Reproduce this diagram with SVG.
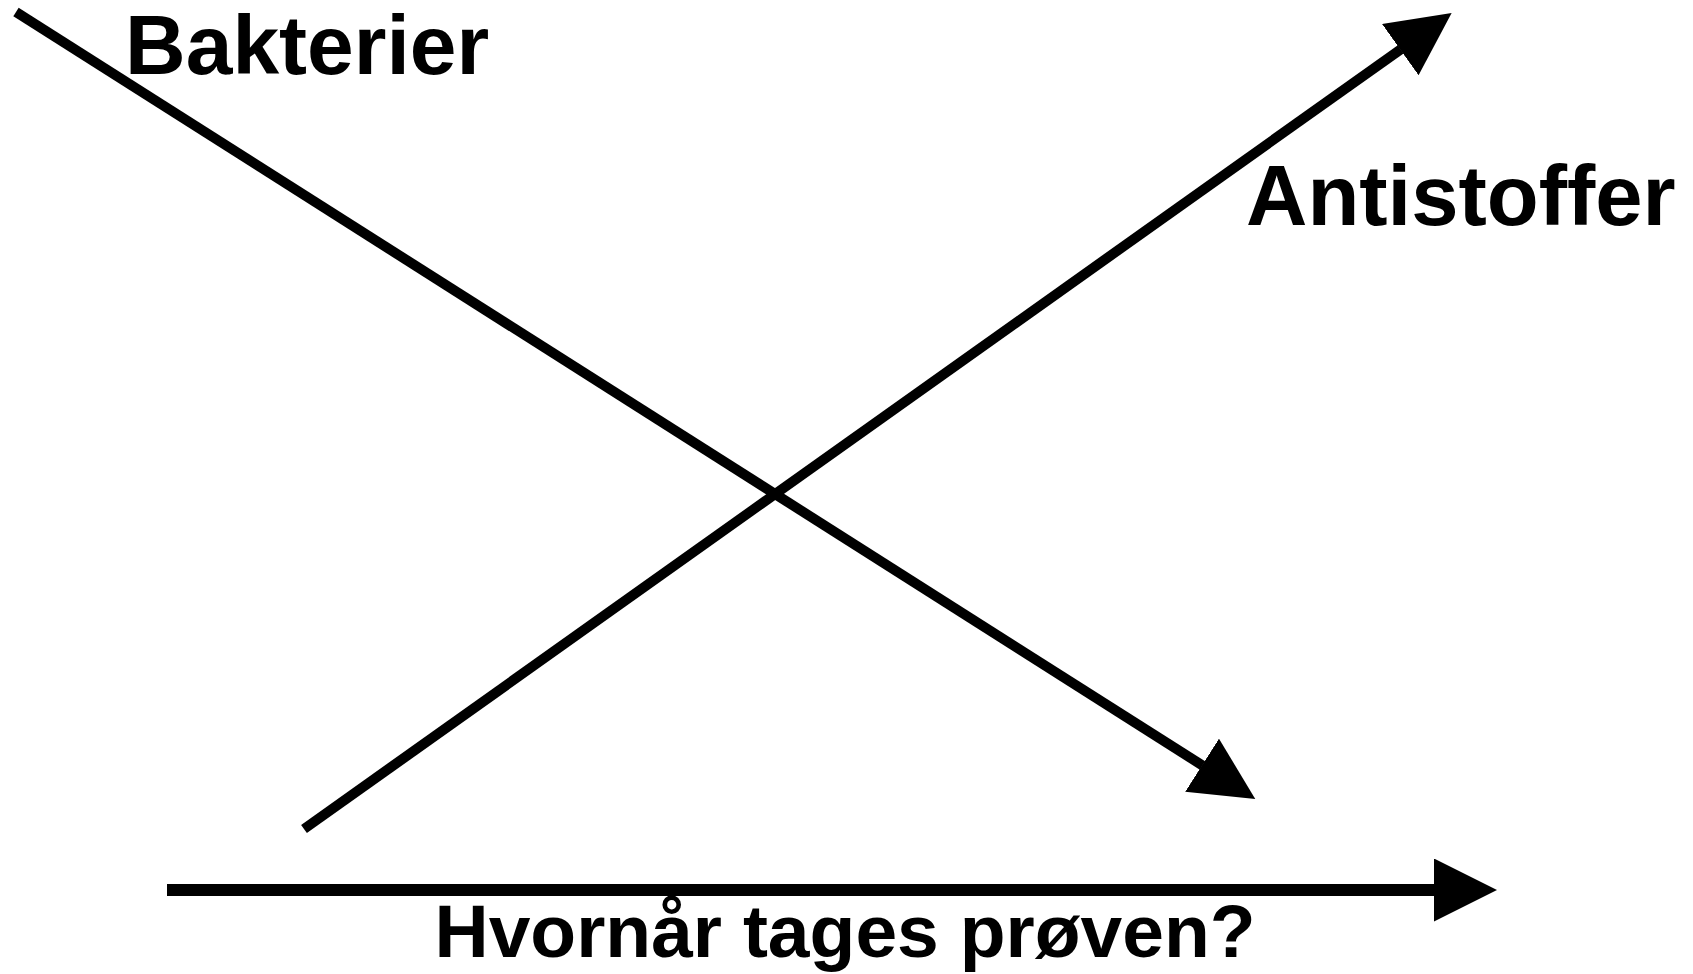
<svg xmlns="http://www.w3.org/2000/svg" width="1693" height="974" viewBox="0 0 1693 974">
<style>
.conn{stroke:#000;fill:none;stroke-linecap:butt;marker-end:url(#arrow)}
.lbl{font-family:"Liberation Sans",Arial,Helvetica,sans-serif;font-weight:bold;fill:#000}
</style>
<defs>
<marker id="arrow" markerUnits="userSpaceOnUse" viewBox="0 0 63 63" markerWidth="63" markerHeight="63" refX="0.5" refY="31.5" orient="auto">
<path d="M0,0 L63,31.5 L0,63 Z" fill="#000"/>
</marker>
</defs>
<rect width="1693" height="974" fill="#fff"/>
<g id="connectors">
<line class="conn" x1="16" y1="12" x2="1202.5" y2="765.5" stroke-width="10"/>
<line class="conn" x1="304" y1="829" x2="1400.7" y2="49.3" stroke-width="10"/>
<line class="conn" x1="167" y1="890" x2="1434.5" y2="890" stroke-width="12"/>
</g>
<g id="bakterier"><text class="lbl" x="125" y="74" font-size="84">Bakterier</text></g>
<g id="antistoffer"><text class="lbl" x="1246" y="225" font-size="85">Antistoffer</text></g>
<g id="tid"><text class="lbl" x="845" y="957" font-size="75" text-anchor="middle">Hvornår tages prøven?</text></g>
</svg>
